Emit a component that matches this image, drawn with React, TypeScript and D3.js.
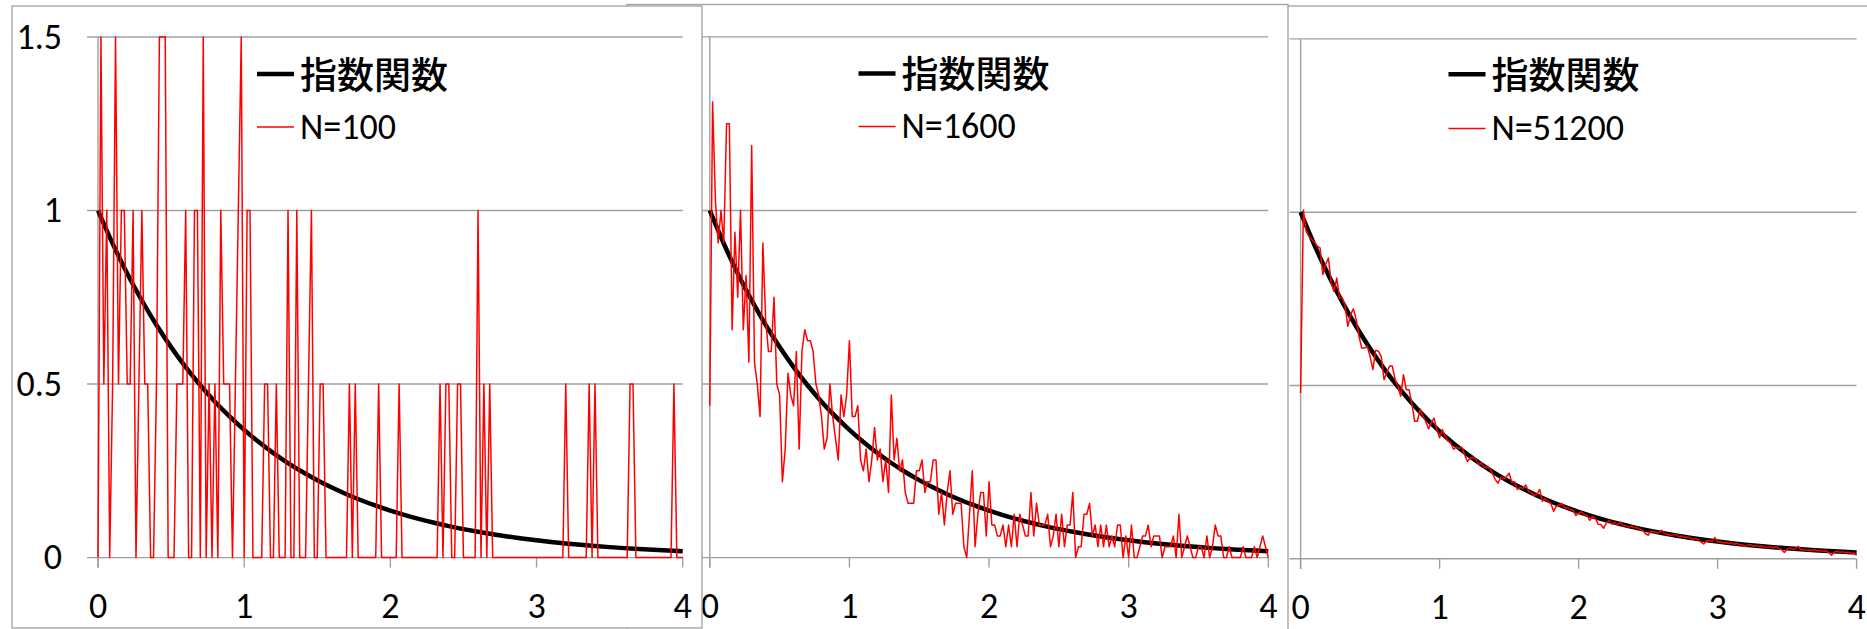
import React from "react";
import * as d3 from "d3";

// Axis ticks shared by the three panels
const xTicks = [0, 1, 2, 3, 4];
const yTicks = [0, 0.5, 1, 1.5];
const yTickLabels = ["0", "0.5", "1", "1.5"];
const binStep = 0.02; // histogram bin width on the x axis

// Reference exponential density exp(-x), sampled every 0.1
const expX = [
  0, 0.1, 0.2, 0.3, 0.4, 0.5, 0.6, 0.7, 0.8, 0.9, 1, 1.1, 1.2, 1.3, 1.4, 1.5, 1.6, 1.7, 1.8, 1.9, 2,
  2.1, 2.2, 2.3, 2.4, 2.5, 2.6, 2.7, 2.8, 2.9, 3, 3.1, 3.2, 3.3, 3.4, 3.5, 3.6, 3.7, 3.8, 3.9, 4,
];
const expY = [
  1, 0.9048, 0.8187, 0.7408, 0.6703, 0.6065, 0.5488, 0.4966, 0.4493, 0.4066, 0.3679, 0.3329, 0.3012,
  0.2725, 0.2466, 0.2231, 0.2019, 0.1827, 0.1653, 0.1496, 0.1353, 0.1225, 0.1108, 0.1003, 0.0907,
  0.0821, 0.0743, 0.0672, 0.0608, 0.055, 0.0498, 0.045, 0.0408, 0.0369, 0.0334, 0.0302, 0.0273,
  0.0247, 0.0224, 0.0202, 0.0183,
];

// Sampled densities, one value per bin (x = 0, 0.02, ..., 4)
const hist100 = [
  0, 1.5, 0.5, 1, 0, 0.5, 1.5, 0.5, 1, 1,
  0.5, 0.5, 1, 0, 0.5, 1, 0.5, 0.5, 0, 0,
  0.5, 1.5, 1.5, 1.5, 0, 0, 0, 0.5, 0.5, 0.5,
  1, 0, 0, 1, 1, 0, 1.5, 0, 0.5, 0,
  0.5, 0, 1, 0.5, 0.5, 0.5, 0, 0.5, 1, 1.5,
  0, 1, 1, 0, 0, 0, 0, 0.5, 0.5, 0,
  0, 0.5, 0, 0, 0, 1, 0, 0, 1, 0,
  0, 0, 0.5, 1, 0, 0, 0.5, 0.5, 0, 0,
  0, 0, 0, 0, 0, 0, 0.5, 0, 0.5, 0,
  0, 0, 0, 0, 0, 0, 0.5, 0, 0, 0,
  0, 0, 0, 0.5, 0, 0, 0, 0, 0, 0,
  0, 0, 0, 0, 0, 0, 0, 0.5, 0, 0.5,
  0.5, 0, 0, 0.5, 0.5, 0, 0, 0, 0, 0,
  1, 0, 0.5, 0, 0.5, 0, 0, 0, 0, 0,
  0, 0, 0, 0, 0, 0, 0, 0, 0, 0,
  0, 0, 0, 0, 0, 0, 0, 0, 0, 0,
  0.5, 0, 0, 0, 0, 0, 0, 0, 0.5, 0,
  0.5, 0, 0, 0, 0, 0, 0, 0, 0, 0,
  0, 0, 0.5, 0.5, 0, 0, 0, 0, 0, 0,
  0, 0, 0, 0, 0, 0, 0, 0.5, 0, 0,
  0,
];

const hist1600 = [
  0.4375, 1.3125, 1.03125, 0.90625, 1.0, 0.90625, 1.25, 1.25, 0.65625, 0.9375,
  0.75, 1.0, 0.65625, 0.8125, 0.5625, 1.1875, 0.5625, 0.5, 0.40625, 0.90625,
  0.6875, 0.59375, 0.59375, 0.75, 0.5, 0.46875, 0.21875, 0.3125, 0.53125, 0.46875,
  0.4375, 0.59375, 0.3125, 0.59375, 0.65625, 0.625, 0.625, 0.59375, 0.5, 0.46875,
  0.40625, 0.3125, 0.34375, 0.5, 0.40625, 0.34375, 0.28125, 0.46875, 0.40625, 0.46875,
  0.625, 0.40625, 0.40625, 0.4375, 0.28125, 0.25, 0.3125, 0.21875, 0.28125, 0.375,
  0.28125, 0.3125, 0.21875, 0.28125, 0.1875, 0.46875, 0.28125, 0.34375, 0.25, 0.28125,
  0.1875, 0.15625, 0.15625, 0.15625, 0.25, 0.25, 0.28125, 0.1875, 0.21875, 0.21875,
  0.28125, 0.28125, 0.125, 0.1875, 0.09375, 0.1875, 0.25, 0.125, 0.15625, 0.15625,
  0.15625, 0.03125, 0, 0.125, 0.25, 0.03125, 0.125, 0.1875, 0.1875, 0.0625,
  0.21875, 0.09375, 0.09375, 0.0625, 0.0625, 0.09375, 0.03125, 0.09375, 0.03125, 0.125,
  0.03125, 0.125, 0.09375, 0.0625, 0.0625, 0.1875, 0.0625, 0.15625, 0.09375, 0.09375,
  0.09375, 0.125, 0.03125, 0.0625, 0.125, 0.03125, 0.125, 0.03125, 0.09375, 0.09375,
  0.1875, 0, 0.03125, 0.03125, 0.125, 0.125, 0.15625, 0.0625, 0.09375, 0.03125,
  0.09375, 0.03125, 0.09375, 0.03125, 0.0625, 0.03125, 0.09375, 0.09375, 0, 0.0625,
  0, 0.09375, 0, 0, 0.03125, 0.0625, 0.0625, 0.09375, 0.03125, 0.0625,
  0.0625, 0.0625, 0, 0.03125, 0.03125, 0.03125, 0.0625, 0, 0.125, 0,
  0.03125, 0.0625, 0.03125, 0, 0, 0.03125, 0.03125, 0, 0.0625, 0,
  0.03125, 0.09375, 0.0625, 0.0625, 0, 0, 0.03125, 0, 0, 0,
  0, 0.03125, 0, 0, 0, 0.03125, 0, 0.03125, 0.0625, 0.03125,
  0,
];

const hist51200 = [
  0.478, 1.006, 0.945, 0.931, 0.921, 0.913, 0.902, 0.897, 0.82, 0.849,
  0.868, 0.796, 0.772, 0.81, 0.753, 0.753, 0.729, 0.671, 0.705, 0.721,
  0.69, 0.642, 0.608, 0.608, 0.613, 0.584, 0.546, 0.602, 0.599, 0.584,
  0.517, 0.536, 0.556, 0.556, 0.517, 0.498, 0.469, 0.531, 0.488, 0.488,
  0.45, 0.397, 0.397, 0.432, 0.411, 0.397, 0.375, 0.392, 0.406, 0.373,
  0.349, 0.373, 0.352, 0.34, 0.335, 0.316, 0.322, 0.318, 0.322, 0.3,
  0.281, 0.29, 0.293, 0.288, 0.272, 0.276, 0.264, 0.265, 0.262, 0.246,
  0.229, 0.218, 0.236, 0.231, 0.236, 0.247, 0.221, 0.222, 0.2, 0.206,
  0.203, 0.213, 0.194, 0.191, 0.183, 0.186, 0.2, 0.166, 0.174, 0.165,
  0.16, 0.137, 0.152, 0.155, 0.16, 0.146, 0.148, 0.142, 0.14, 0.125,
  0.131, 0.136, 0.128, 0.126, 0.111, 0.122, 0.118, 0.1, 0.099, 0.088,
  0.104, 0.11, 0.1, 0.104, 0.097, 0.106, 0.096, 0.095, 0.092, 0.094,
  0.089, 0.09, 0.085, 0.083, 0.073, 0.068, 0.08, 0.078, 0.075, 0.076,
  0.082, 0.072, 0.071, 0.068, 0.069, 0.07, 0.064, 0.066, 0.062, 0.063,
  0.061, 0.056, 0.059, 0.055, 0.049, 0.043, 0.052, 0.053, 0.05, 0.061,
  0.048, 0.049, 0.046, 0.047, 0.044, 0.046, 0.042, 0.044, 0.041, 0.04,
  0.035, 0.04, 0.041, 0.036, 0.038, 0.036, 0.037, 0.034, 0.033, 0.035,
  0.032, 0.034, 0.03, 0.027, 0.018, 0.028, 0.031, 0.027, 0.029, 0.036,
  0.026, 0.027, 0.025, 0.026, 0.024, 0.026, 0.023, 0.024, 0.022, 0.023,
  0.018, 0.01, 0.02, 0.021, 0.019, 0.02, 0.018, 0.019, 0.016, 0.017,
  0.01,
];

const expName = "指数関数";
const sampleNames = ["N=100", "N=1600", "N=51200"];

type Layout = {
  id: string;
  fx0: number; fy0: number; fx1: number; fy1: number; // chart frame
  left: number; right: number; top: number; bottom: number; // plot area
  legX: number; legY1: number; legY2: number;
  showYLabels: boolean;
};

const layouts: Layout[] = [
  { id: "p1", fx0: 12, fy0: 6, fx1: 702, fy1: 628, left: 98, right: 682.7, top: 37, bottom: 557.6, legX: 257, legY1: 74, legY2: 127, showYLabels: true },
  { id: "p2", fx0: 627, fy0: 4.5, fx1: 1288, fy1: 660, left: 709.8, right: 1268.3, top: 36.9, bottom: 557.6, legX: 858.5, legY1: 73.4, legY2: 126.4, showYLabels: false },
  { id: "p3", fx0: 1215, fy0: 6, fx1: 1900, fy1: 660, left: 1300.6, right: 1856.6, top: 38.9, bottom: 558.8, legX: 1448.5, legY1: 74.2, legY2: 128.4, showYLabels: false },
];

const GRID = "#a0a0a0";
const FRAME = "#a6a6a6";
const NUM_FONT = "Carlito, Lato, sans-serif";
const NUM_SIZE = 36;
const JP_FONT = "'Noto Sans CJK JP', sans-serif";

function Panel({ L, values, name }: { L: Layout; values: number[]; name: string }) {
  const x = d3.scaleLinear().domain([0, 4]).range([L.left, L.right]);
  const y = d3.scaleLinear().domain([0, 1.5]).range([L.bottom, L.top]);
  const sampleLine = d3
    .line<number>()
    .x((_, i) => x(i * binStep))
    .y((v) => y(v));
  const expLine = d3
    .line<number>()
    .x((_, i) => x(expX[i]))
    .y((v) => y(v))
    .curve(d3.curveMonotoneX);
  const clipId = `clip-${L.id}`;
  const frameClip = `frame-${L.id}`;

  return (
    <g>
      <defs>
        <clipPath id={clipId}>
          <rect x={L.left - 2} y={L.top - 3} width={L.right - L.left + 4} height={L.bottom - L.top + 6} />
        </clipPath>
        <clipPath id={frameClip}>
          <rect x={L.fx0} y={L.fy0} width={L.fx1 - L.fx0} height={L.fy1 - L.fy0} />
        </clipPath>
      </defs>
      <rect x={L.fx0} y={L.fy0} width={L.fx1 - L.fx0} height={L.fy1 - L.fy0} fill="#fff" stroke={FRAME} strokeWidth={1.4} />
      <g clipPath={`url(#${frameClip})`}>
        {yTicks.map((t) => (
          <line key={`g${t}`} x1={L.left - 11} x2={L.right} y1={y(t)} y2={y(t)} stroke={GRID} strokeWidth={1.4} />
        ))}
        <line x1={x(0)} x2={x(0)} y1={y(1.5)} y2={y(0) + 10} stroke={GRID} strokeWidth={1.4} />
        {xTicks.map((t) => (
          <line key={`t${t}`} x1={x(t)} x2={x(t)} y1={y(0)} y2={y(0) + 10} stroke={GRID} strokeWidth={1.4} />
        ))}
        {L.showYLabels &&
          yTicks.map((t, i) => (
            <text key={`yl${t}`} x={L.left - 36} y={y(t) + 11.5} textAnchor="end" fontFamily={NUM_FONT} fontSize={NUM_SIZE} fill="#000">
              {yTickLabels[i]}
            </text>
          ))}
        {xTicks.map((t) => (
          <text key={`xl${t}`} x={x(t)} y={y(0) + 60} textAnchor="middle" fontFamily={NUM_FONT} fontSize={NUM_SIZE} fill="#000">
            {t}
          </text>
        ))}
        <g clipPath={`url(#${clipId})`}>
          <path d={expLine(expY) ?? ""} fill="none" stroke="#000" strokeWidth={4.5} strokeLinejoin="round" />
          <path d={sampleLine(values) ?? ""} fill="none" stroke="#ff0000" strokeWidth={1.5} strokeLinejoin="round" />
        </g>
        {/* legend */}
        <line x1={L.legX} x2={L.legX + 37} y1={L.legY1} y2={L.legY1} stroke="#000" strokeWidth={4.5} />
        <text x={L.legX + 43} y={L.legY1 - 1} dominantBaseline="central" fontFamily={JP_FONT} fontWeight={500} fontSize={37} fill="#000">
          {expName}
        </text>
        <line x1={L.legX} x2={L.legX + 37} y1={L.legY2} y2={L.legY2} stroke="#ff0000" strokeWidth={1.5} />
        <text x={L.legX + 43} y={L.legY2 + 11.5} fontFamily={NUM_FONT} fontSize={NUM_SIZE} fill="#000">
          {name}
        </text>
      </g>
    </g>
  );
}

export default function App() {
  const series = [hist100, hist1600, hist51200];
  // Later panels sit underneath earlier ones, so draw right to left.
  const order = [2, 1, 0];
  return (
    <svg width={1867} height={629} style={{ position: "absolute", left: 0, top: 0, background: "#fff" }}>
      <rect x={0} y={0} width={1867} height={629} fill="#fff" />
      {order.map((k) => (
        <Panel key={layouts[k].id} L={layouts[k]} values={series[k]} name={sampleNames[k]} />
      ))}
    </svg>
  );
}
